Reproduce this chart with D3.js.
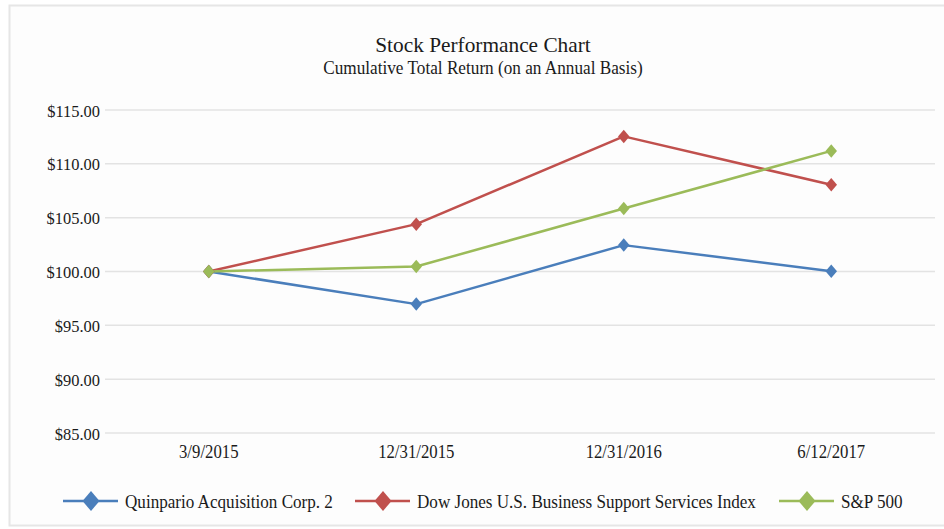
<!DOCTYPE html>
<html>
<head>
<meta charset="utf-8">
<script src="https://cdn.jsdelivr.net/npm/d3@7"></script>
<style>
  html, body { margin: 0; padding: 0; background: #ffffff; }
  svg { display: block; }
  text { font-family: "Liberation Serif", "Times New Roman", serif; fill: #1a1a1a; }
</style>
</head>
<body>
<svg id="chart" width="944" height="529"></svg>
<script>
const categories = ["3/9/2015", "12/31/2015", "12/31/2016", "6/12/2017"];
const seriesNames = ["Quinpario Acquisition Corp. 2", "Dow Jones U.S. Business Support Services Index", "S&P 500"];
const quinpario = [100.00, 96.97, 102.45, 100.03];
const dowJones = [100.00, 104.40, 112.55, 108.05];
const sp500 = [100.00, 100.46, 105.85, 111.20];
const yTicks = [85, 90, 95, 100, 105, 110, 115];
const colors = ["#4a7ebb", "#c0504d", "#9bbb59"];

const series = [quinpario, dowJones, sp500].map((values, i) => ({ name: seriesNames[i], values, color: colors[i] }));

const svg = d3.select("#chart");
const W = 944, H = 529;
const margin = { left: 105, right: 9, top: 110, bottom: 96 };

svg.append("rect").attr("x", 0).attr("y", 0).attr("width", W).attr("height", H).attr("fill", "#ffffff");
svg.append("rect").attr("x", 9.5).attr("y", 5.5).attr("width", W).attr("height", H - 9).attr("fill", "#fdfdfd").attr("stroke", "#e6e6e6").attr("stroke-width", 2);

const x = d3.scaleBand().domain(categories).range([margin.left, W - margin.right]);
const y = d3.scaleLinear().domain([85, 115]).range([H - margin.bottom, margin.top]);

// gridlines
svg.append("g").selectAll("line").data(yTicks).join("line")
  .attr("x1", margin.left).attr("x2", W - margin.right)
  .attr("y1", d => y(d)).attr("y2", d => y(d))
  .attr("stroke", "#e3e3e3").attr("stroke-width", 1.5);

function condense(sel, sx) {
  sel.each(function () {
    const t = d3.select(this);
    const tx = +t.attr("x") || 0;
    t.attr("transform", `translate(${tx * (1 - sx)},0) scale(${sx},1)`);
  });
}

// y axis labels
const yAxis = d3.axisLeft(y).tickValues(yTicks).tickSize(0).tickPadding(5)
  .tickFormat(d => "$" + d3.format(".2f")(d));
const gy = svg.append("g").attr("transform", `translate(${margin.left},0)`).call(yAxis);
gy.attr("font-family", null).attr("font-size", null);
gy.select(".domain").remove();
gy.selectAll("text").style("font-family", "'Liberation Serif', serif").style("font-size", "17.5px").style("fill", "#1a1a1a")
  .attr("dy", "0.35em");
gy.selectAll(".tick text").each(function () {
  const t = d3.select(this);
  const tx = +t.attr("x");
  t.attr("transform", `translate(${tx * (1 - 0.94)},0) scale(0.94,1)`);
});

// x axis labels
const xAxis = d3.axisBottom(x).tickSize(0).tickPadding(12);
const gx = svg.append("g").attr("transform", `translate(0,${y(85)})`).call(xAxis);
gx.attr("font-family", null).attr("font-size", null);
gx.select(".domain").remove();
gx.selectAll("text").style("font-family", "'Liberation Serif', serif").style("font-size", "18px").style("fill", "#1a1a1a")
  .attr("transform", "scale(0.93,1)");

// lines
const line = d3.line().x((d, i) => x(categories[i]) + x.bandwidth() / 2).y(d => y(d));
function diamond(w, h) {
  return `M0,${-h / 2}L${w / 2},0L0,${h / 2}L${-w / 2},0Z`;
}
series.forEach(s => {
  svg.append("path").datum(s.values).attr("d", line)
    .attr("fill", "none").attr("stroke", s.color).attr("stroke-width", 2.5).attr("stroke-linejoin", "round");
});
series.forEach(s => {
  svg.append("g").selectAll("path").data(s.values).join("path")
    .attr("transform", (d, i) => `translate(${x(categories[i]) + x.bandwidth() / 2},${y(d)})`)
    .attr("d", diamond(11.5, 13.5)).attr("fill", s.color);
});

// title
svg.append("g").attr("transform", "translate(483,52) scale(0.97,1)")
  .append("text").attr("text-anchor", "middle").style("font-size", "22px").text("Stock Performance Chart");
svg.append("g").attr("transform", "translate(483,74) scale(0.93,1)")
  .append("text").attr("text-anchor", "middle").style("font-size", "18.5px").text("Cumulative Total Return (on an Annual Basis)");

// legend
const legendX = [63, 355, 779];
const lg = svg.append("g");
series.forEach((s, i) => {
  const g = lg.append("g").attr("transform", `translate(${legendX[i]},501)`);
  g.append("line").attr("x1", 0).attr("x2", 55).attr("y1", 0).attr("y2", 0).attr("stroke", s.color).attr("stroke-width", 2.5);
  g.append("path").attr("transform", "translate(28,0)").attr("d", diamond(17, 20)).attr("fill", s.color);
  g.append("g").attr("transform", "translate(62,6.5) scale(0.9,1)")
    .append("text").style("font-size", "19px").text(s.name);
});
</script>
</body>
</html>
